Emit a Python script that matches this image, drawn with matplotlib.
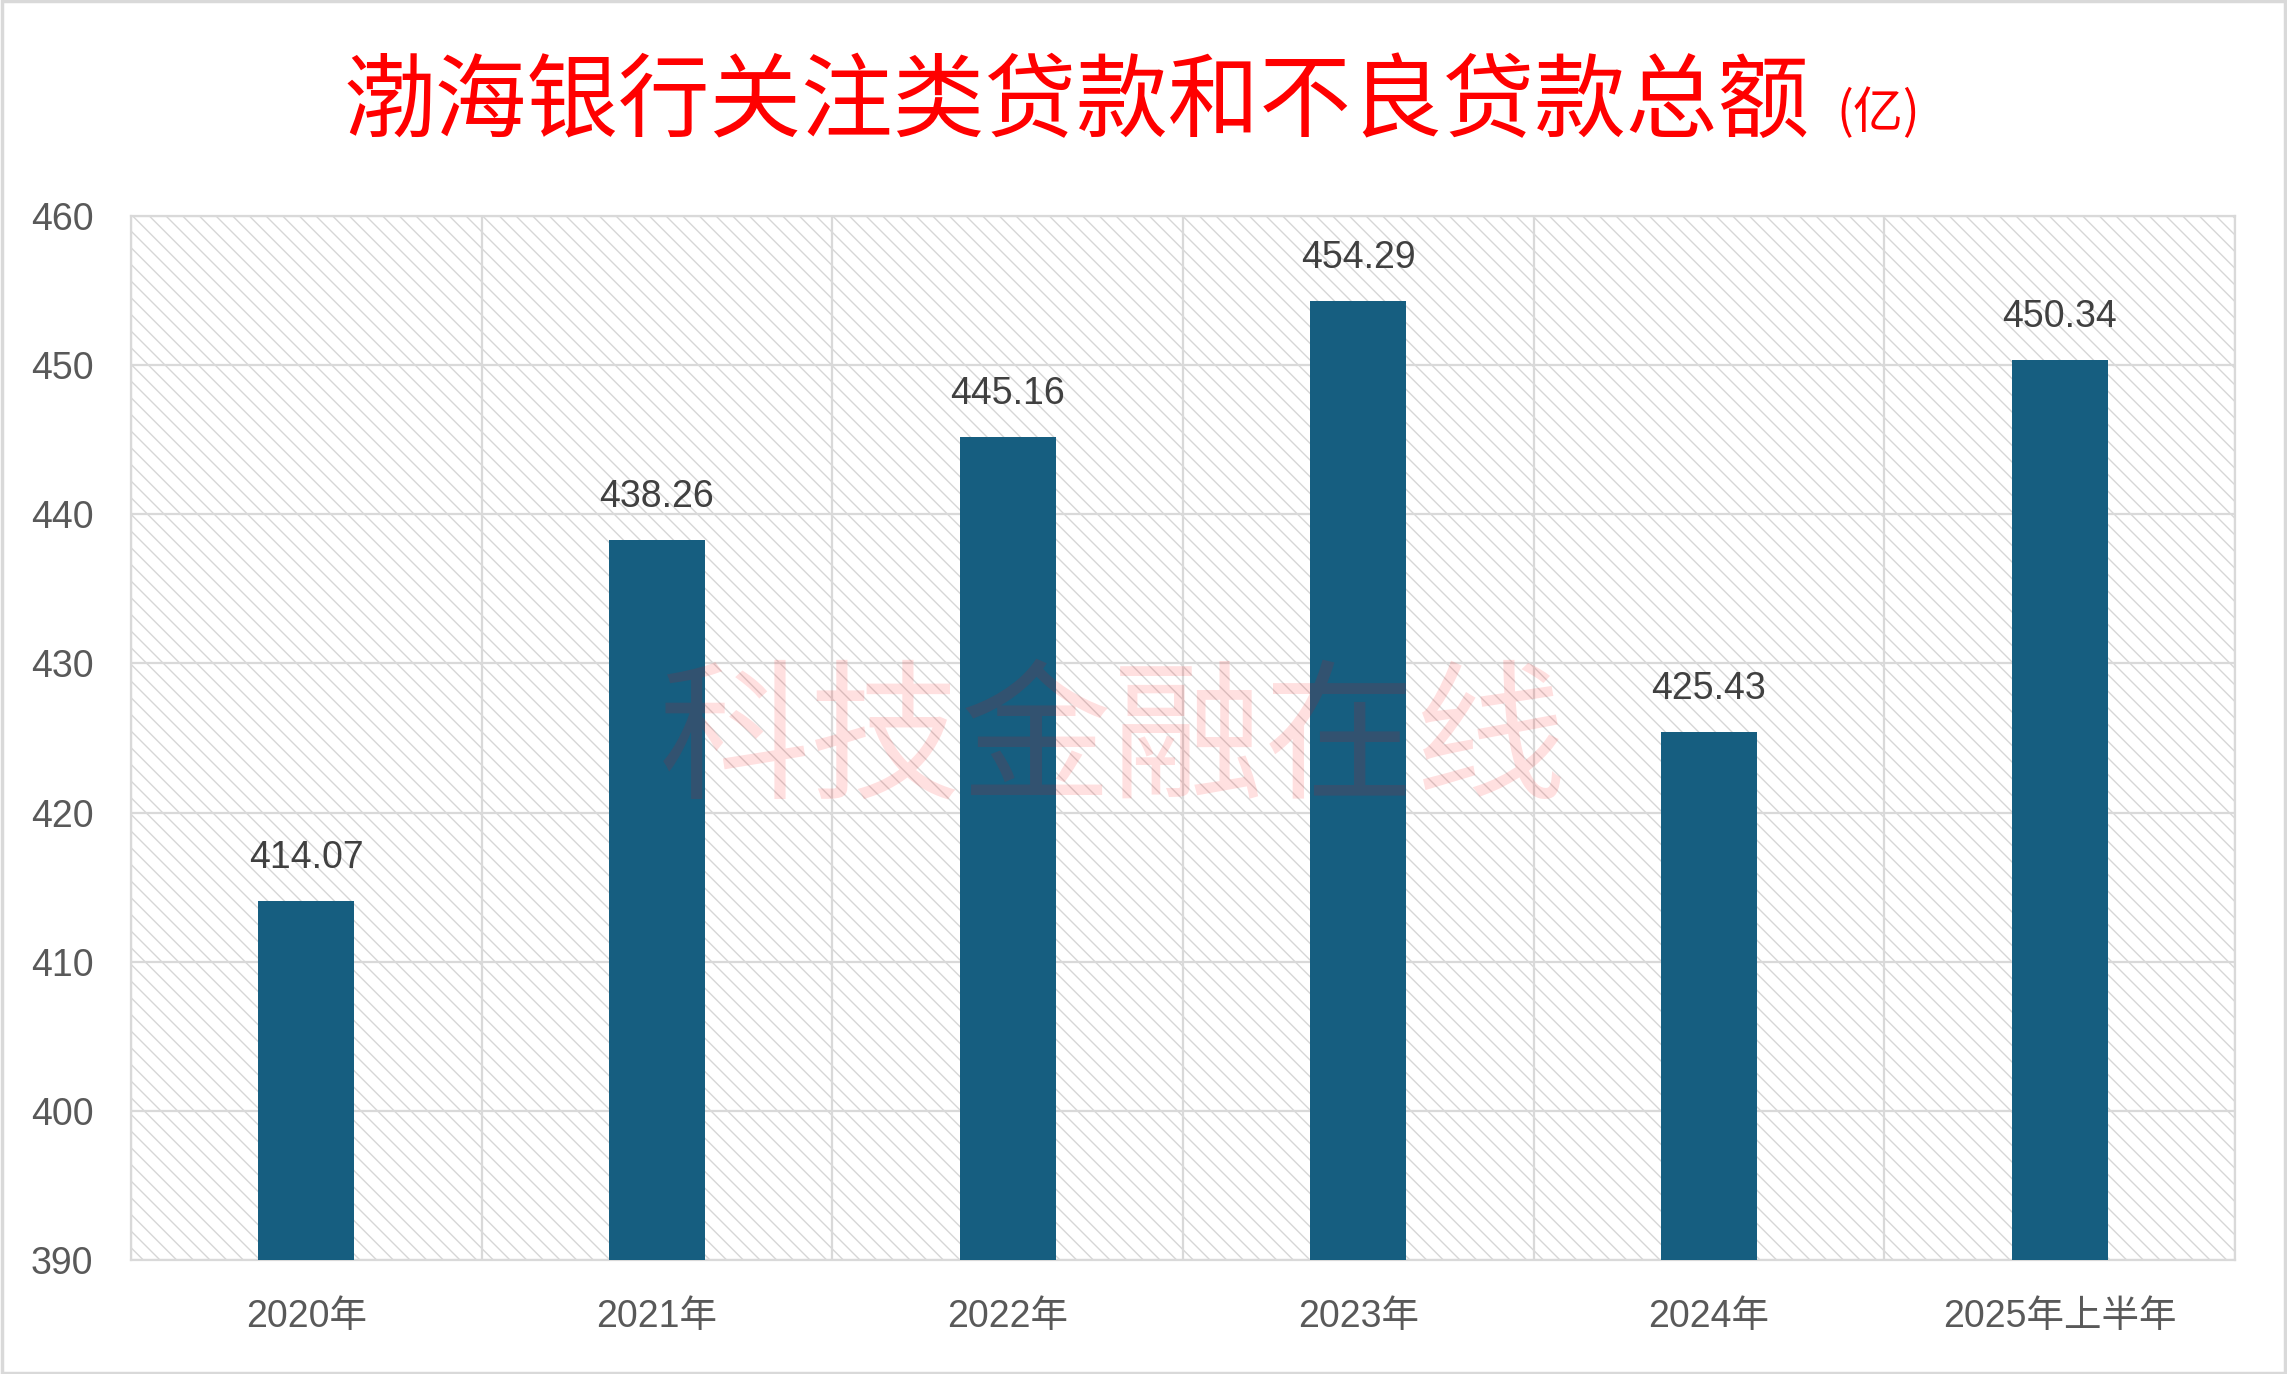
import matplotlib
matplotlib.use('Agg')
import matplotlib.pyplot as plt
from matplotlib.patches import Rectangle
import numpy as np

# data
categories = ['2020年', '2021年', '2022年', '2023年', '2024年', '2025年上半年']
values = [414.07, 438.26, 445.16, 454.29, 425.43, 450.34]
y_ticks = [390, 400, 410, 420, 430, 440, 450, 460]

plt.rcParams['font.family'] = ['Liberation Sans', 'Noto Sans CJK SC']
plt.rcParams['hatch.linewidth'] = 1.0

fig = plt.figure(figsize=(22.87, 13.74), dpi=100)
ax = fig.add_axes([131 / 2287, 1 - 1260 / 1374, (2235 - 131) / 2287, (1260 - 216) / 1374])

x = np.arange(len(categories))

# hatched background of the plot area
bg = Rectangle((0, 0), 1, 1, transform=ax.transAxes, facecolor='white',
               edgecolor='#D6D6D6', linewidth=0, hatch='\\\\', zorder=0)
ax.add_patch(bg)
ax.patch.set_visible(False)

bars = ax.bar(x, [v - 390 for v in values], bottom=390, width=0.274,
              color='#165E80', zorder=3)
ax.bar_label(bars, labels=[f'{v:.2f}' for v in values], padding=18,
             fontsize=27, color='#404040', zorder=4)

ax.set_ylim(390, 460)
ax.set_xlim(-0.5, len(categories) - 0.5)
ax.set_yticks(y_ticks)
ax.set_xticks(x)
ax.set_xticklabels(categories)
ax.set_xticks(np.arange(-0.5, len(categories)), minor=True)

ax.tick_params(axis='y', length=0, pad=27, labelsize=27, labelcolor='#595959')
ax.tick_params(axis='x', which='both', length=0, pad=28, labelsize=27, labelcolor='#595959')

ax.grid(axis='y', color='#D9D9D9', linewidth=1.6, zorder=1)
ax.grid(axis='x', which='minor', color='#D9D9D9', linewidth=1.6, zorder=1)
ax.grid(axis='x', which='major', visible=False)
ax.set_axisbelow(True)
for s in ax.spines.values():
    s.set_color('#D9D9D9')
    s.set_linewidth(1.6)

# title
fig.text(344 / 2287, 1 - 104 / 1374, '渤海银行关注类贷款和不良贷款总额',
         fontsize=66, color='#FF0000', ha='left', va='center',
         family=['Noto Sans CJK SC', 'DejaVu Sans'])
fig.text(1836 / 2287, 1 - 114 / 1374, '(亿)',
         fontsize=36, color='#FF0000', ha='left', va='center',
         family=['Noto Sans CJK SC', 'DejaVu Sans'])

# watermark
fig.text(1113 / 2287, 1 - 744 / 1374, '科技金融在线', fontsize=109,
         color='#FF0000', alpha=0.12, ha='center', va='center', zorder=5,
         family=['Noto Sans CJK SC', 'DejaVu Sans'])

# figure border
fig.patches.append(Rectangle((0.001, 0.001), 0.998, 0.998, transform=fig.transFigure,
                             fill=False, edgecolor='#D9D9D9', linewidth=2.5))

fig.savefig('out.png', dpi=100)
